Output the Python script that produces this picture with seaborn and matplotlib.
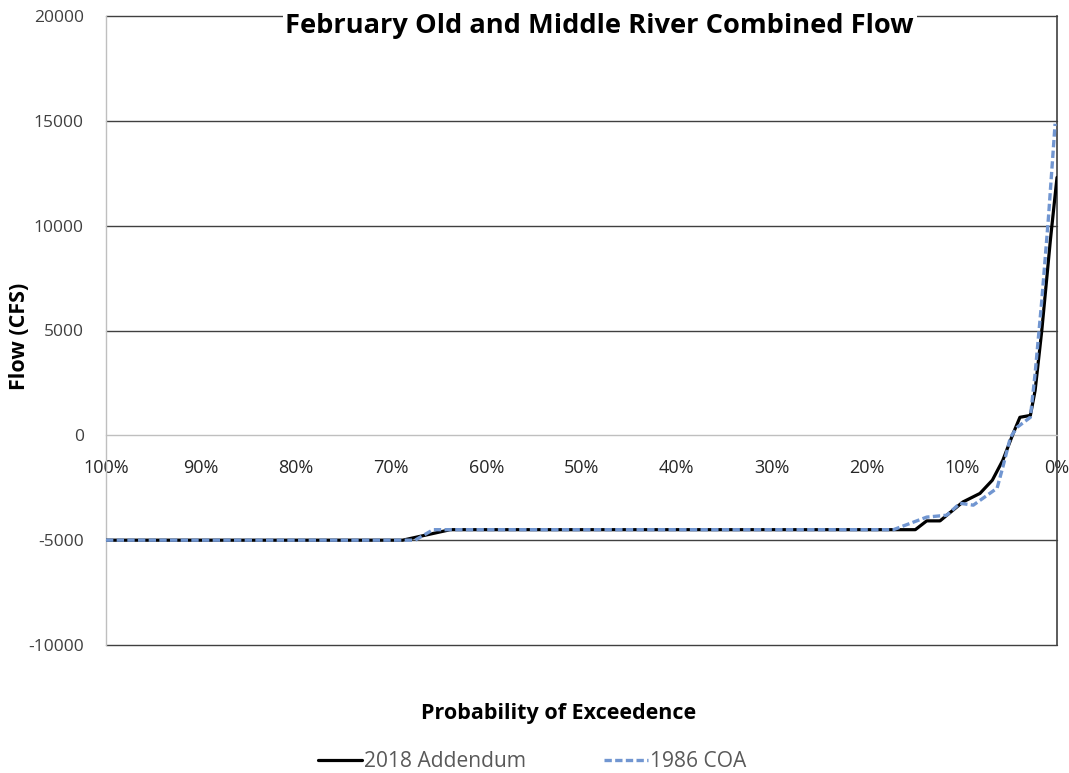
import numpy as np
import pandas as pd
import matplotlib
matplotlib.use('Agg')
import matplotlib.pyplot as plt
import seaborn as sns

# Datos (probabilidad de excedencia en %, caudal en CFS)
prob_2018 = [100, 68.8, 63.8, 14.9, 13.7, 12.3, 9.9, 8.1, 6.8, 5.7, 4.6, 3.9, 2.8, 2.3, 1.6, 0.7, 0.0]
flow_2018 = [-5000, -5000, -4500, -4500, -4080, -4080, -3180, -2770, -2140, -1190, 100, 860, 950, 2140, 5000, 9290, 12300]

prob_1986 = [100, 67.5, 65.6, 17.2, 13.7, 11.6, 10.2, 8.8, 6.3, 5.7, 4.9, 4.2, 2.8, 2.3, 1.6, 0.9, 0.2]
flow_1986 = [-5000, -5000, -4500, -4500, -3900, -3810, -3240, -3330, -2520, -1520, -100, 380, 860, 2950, 6430, 10380, 14860]

x_ticks = [100, 90, 80, 70, 60, 50, 40, 30, 20, 10, 0]
y_ticks = [-10000, -5000, 0, 5000, 10000, 15000, 20000]

sns.set_theme(style='white')
plt.rcParams['font.family'] = ['Open Sans', 'DejaVu Sans']

fig = plt.figure(figsize=(10.69, 7.73), dpi=100)
ax = fig.add_axes([106 / 1069, 1 - 645 / 773, (1057 - 106) / 1069, (645 - 16) / 773])

df_2018 = pd.DataFrame({'prob': prob_2018, 'flow': flow_2018})
df_1986 = pd.DataFrame({'prob': prob_1986, 'flow': flow_1986})

sns.lineplot(data=df_2018, x='prob', y='flow', ax=ax, color='black', linewidth=2.3,
             label='2018 Addendum', sort=False, zorder=3)
sns.lineplot(data=df_1986, x='prob', y='flow', ax=ax, color='#7196D1', linewidth=2.4,
             linestyle=(0, (2.2, 1.0)), label='1986 COA', sort=False, zorder=4)

ax.set_xlim(100, 0)
ax.set_ylim(-10000, 20000)
ax.set_yticks(y_ticks)
ax.set_yticklabels([str(v) for v in y_ticks], color='#404040')
ax.set_xticks(x_ticks)
ax.set_xticklabels([f'{v}%' for v in x_ticks], color='#404040')
ax.tick_params(axis='both', length=0)
ax.tick_params(axis='y', pad=16, labelsize=12.5)
ax.tick_params(axis='x', pad=17, labelsize=13)

# lineas horizontales de la cuadricula
for v in y_ticks:
    if v != 0:
        ax.axhline(v, color='#404040', linewidth=1.0, zorder=1, clip_on=False)

ax.spines['bottom'].set_position(('data', 0))
ax.spines['bottom'].set_color('#BFBFBF')
ax.spines['bottom'].set_linewidth(1.0)
ax.spines['left'].set_color('#BFBFBF')
ax.spines['left'].set_linewidth(1.0)
ax.spines['right'].set_color('#404040')
ax.spines['right'].set_linewidth(1.2)
ax.spines['top'].set_visible(False)

ax.set_xlabel('')
ax.set_ylabel('')

ax.text(0.519, 0.984, 'February Old and Middle River Combined Flow', transform=ax.transAxes,
        ha='center', va='center', fontsize=19.6, fontweight='bold', color='black',
        bbox=dict(facecolor='white', edgecolor='none', pad=2), zorder=5)

fig.text(559 / 1069, 1 - 714 / 773, 'Probability of Exceedence', ha='center', va='center',
         fontsize=15.5, fontweight='bold', color='black')
fig.text(20 / 1069, 1 - 336 / 773, 'Flow (CFS)', ha='center', va='center', rotation=90,
         fontsize=15.5, fontweight='bold', color='black')

leg = ax.legend(loc='center', bbox_to_anchor=(0.448, -0.186), ncol=2, frameon=False,
                fontsize=15.1, handlelength=2.1, handletextpad=0.1, columnspacing=3.7,
                borderpad=0.1)
for t in leg.get_texts():
    t.set_color('#595959')

fig.savefig('out.png', dpi=100)
